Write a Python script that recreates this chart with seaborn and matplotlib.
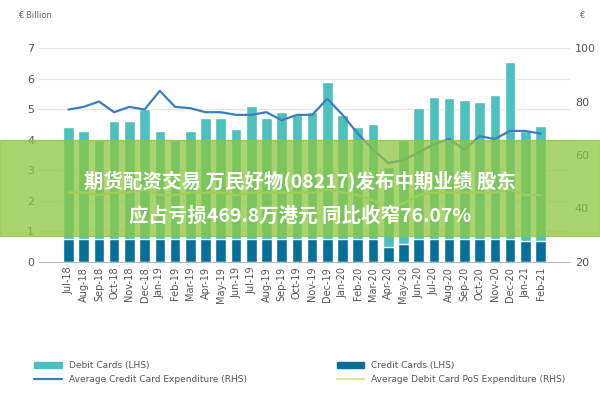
import numpy as np
import pandas as pd
import matplotlib
matplotlib.use("Agg")
import matplotlib.pyplot as plt
import seaborn as sns
from matplotlib.patches import Rectangle

months = ["Jul-18", "Aug-18", "Sep-18", "Oct-18", "Nov-18", "Dec-18", "Jan-19", "Feb-19",
          "Mar-19", "Apr-19", "May-19", "Jun-19", "Jul-19", "Aug-19", "Sep-19", "Oct-19",
          "Nov-19", "Dec-19", "Jan-20", "Feb-20", "Mar-20", "Apr-20", "May-20", "Jun-20",
          "Jul-20", "Aug-20", "Sep-20", "Oct-20", "Nov-20", "Dec-20", "Jan-21", "Feb-21"]
total_cards = [4.4, 4.3, 4.0, 4.6, 4.6, 5.0, 4.3, 4.0, 4.3, 4.7, 4.7, 4.35, 5.1, 4.7, 4.9, 4.8,
               4.9, 5.9, 4.8, 4.4, 4.5, 3.1, 4.0, 5.05, 5.4, 5.35, 5.3, 5.25, 5.45, 6.55, 4.3, 4.45]
credit_cards = [0.75, 0.75, 0.75, 0.75, 0.75, 0.75, 0.75, 0.75, 0.75, 0.75, 0.75, 0.75, 0.75, 0.75,
                0.75, 0.75, 0.75, 0.75, 0.75, 0.75, 0.75, 0.5, 0.6, 0.75, 0.75, 0.75, 0.75, 0.75,
                0.75, 0.75, 0.7, 0.7]
avg_credit = [77, 78, 80, 76, 78, 77, 84, 78, 77.5, 76, 76, 75, 75, 76, 73, 75, 75, 81, 75, 68,
              62, 57, 58, 61, 64, 66, 62, 67, 66, 69, 69, 68]
avg_debit = [46, 46, 45, 46, 46, 47, 45, 45, 46, 46, 46, 45, 46, 46, 46, 46, 46, 47, 46, 45,
             43, 40, 42, 45, 46, 46, 46, 46, 46, 47, 45, 45]

df = pd.DataFrame({"month": months, "total": total_cards, "credit": credit_cards})

sns.set_style("white")
fig, ax = plt.subplots(figsize=(6, 4), dpi=100)
fig.subplots_adjust(left=0.065, right=0.95, top=0.88, bottom=0.345)

sns.barplot(data=df, x="month", y="total", color="#4fc0bd", saturation=1, width=0.7, ax=ax)
sns.barplot(data=df, x="month", y="credit", color="#0a6f96", saturation=1, width=0.7, ax=ax)
ax.set_ylim(0, 7)
ax.set_yticks(range(8))
ax.yaxis.grid(True, color="#e6e6e6", lw=0.8)
ax.set_axisbelow(True)
ax.set_xlabel("")
ax.set_ylabel("")
ax.tick_params(axis="x", rotation=90, labelsize=7, colors="#555555", length=0)
ax.tick_params(axis="y", labelsize=8, colors="#555555", length=0)
for s in ax.spines.values():
    s.set_visible(False)
ax.spines["bottom"].set_visible(True)
ax.spines["bottom"].set_color("#bbbbbb")

ax2 = ax.twinx()
x = np.arange(len(months))
ax2.plot(x, avg_credit, color="#3a7fc0", lw=1.6)
ax2.plot(x, avg_debit, color="#d8e8a0", lw=1.6)
ax2.set_ylim(20, 100)
ax2.set_yticks([20, 40, 60, 80, 100])
ax2.tick_params(axis="y", labelsize=8, colors="#555555", length=0)
for s in ax2.spines.values():
    s.set_visible(False)

fig.text(0.03, 0.955, "€ Billion", fontsize=6, color="#666666")
fig.text(0.965, 0.955, "€", fontsize=6, color="#666666")

# row-major order: matplotlib fills legend columns first
handles = [Rectangle((0, 0), 1, 1, color="#4fc0bd"),
           plt.Line2D([], [], color="#3a7fc0", lw=1.6),
           Rectangle((0, 0), 1, 1, color="#0a6f96"),
           plt.Line2D([], [], color="#d8e8a0", lw=1.6)]
labels = ["Debit Cards (LHS)", "Average Credit Card Expenditure (RHS)",
          "Credit Cards (LHS)", "Average Debit Card PoS Expenditure (RHS)"]
fig.legend(handles, labels, loc="lower center", ncol=2, fontsize=6.5, frameon=False,
           bbox_to_anchor=(0.5, 0.02), columnspacing=10, handlelength=3, labelcolor="#555555")

# overlay banner
cjk = ["Noto Sans CJK SC", "Noto Sans CJK JP", "Noto Sans CJK TC", "DejaVu Sans"]
fig.patches.append(Rectangle((0, 0.41), 1, 0.24, transform=fig.transFigure,
                             color="#8cc63f", alpha=0.75, zorder=5))
fig.text(0.5, 0.545, "期货配资交易 万民好物(08217)发布中期业绩 股东", ha="center", va="center",
         fontsize=14, color="white", fontweight="bold", fontfamily=cjk, zorder=6)
fig.text(0.5, 0.46, "应占亏损469.8万港元 同比收窄76.07%", ha="center", va="center",
         fontsize=14, color="white", fontweight="bold", fontfamily=cjk, zorder=6)

fig.savefig("out.png", dpi=100)
